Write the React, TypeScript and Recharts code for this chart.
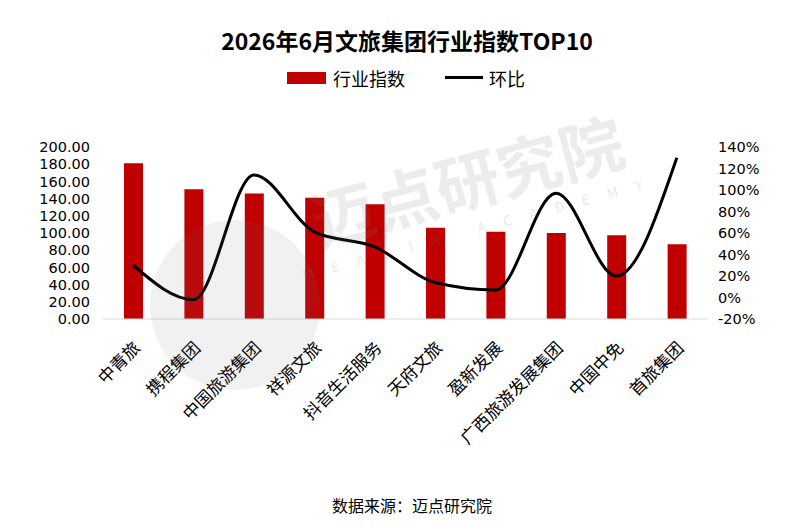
import { ComposedChart, Bar, Line, XAxis, YAxis } from "recharts";

const categories = ["中青旅", "携程集团", "中国旅游集团", "祥源文旅", "抖音生活服务", "天府文旅", "盈新发展", "广西旅游发展集团", "中国中免", "首旅集团"];
const indexValues = [181, 151, 146, 141, 133.5, 106, 101.5, 100, 97.5, 87];
const momValues = [30, -2, 114, 61, 47, 14, 7, 97, 20, 130];
const leftTicks = [0, 20, 40, 60, 80, 100, 120, 140, 160, 180, 200];
const rightTicks = [-20, 0, 20, 40, 60, 80, 100, 120, 140];

const data = categories.map((name, i) => ({ name, index: indexValues[i], mom: momValues[i] }));

const FONT = '"Noto Sans CJK SC", "Noto Sans", sans-serif';
const NUM_FONT = '"DejaVu Sans", sans-serif';

function AngledTick(props: any) {
  const { x, y, payload } = props;
  return (
    <g transform={`translate(${x + 8},${y + 22})`}>
      <text textAnchor="end" transform="rotate(-45)" fontSize={17} fill="#000" fontFamily={FONT}>
        {payload.value}
      </text>
    </g>
  );
}

export default function App() {
  return (
    <div style={{ position: "absolute", left: 0, top: 0, width: 800, height: 532, background: "#fff", fontFamily: FONT, overflow: "hidden" }}>
      <div style={{ position: "absolute", left: 7, top: 23, width: 800, textAlign: "center", fontSize: 23, fontWeight: 700, color: "#000" }}>
        2026年6月文旅集团行业指数TOP10
      </div>

      {/* legend */}
      <div style={{ position: "absolute", left: 287, top: 72, width: 39, height: 12, background: "#c00000" }} />
      <div style={{ position: "absolute", left: 333, top: 65, fontSize: 18, color: "#000", lineHeight: "26px" }}>行业指数</div>
      <div style={{ position: "absolute", left: 445, top: 76, width: 38, height: 3, background: "#000" }} />
      <div style={{ position: "absolute", left: 489, top: 65, fontSize: 18, color: "#000", lineHeight: "26px" }}>环比</div>

      <ComposedChart width={800} height={532} data={data} margin={{ top: 147, right: 33, bottom: 113, left: 43 }}>
        <XAxis
          dataKey="name"
          height={100}
          interval={0}
          tickLine={false}
          axisLine={{ stroke: "#d9d9d9" }}
          tick={<AngledTick />}
        />
        <YAxis
          yAxisId="left"
          width={60}
          domain={[0, 200]}
          ticks={leftTicks}
          axisLine={false}
          tickLine={false}
          tickMargin={7}
          interval={0}
          tick={{ fontSize: 14.5, fill: "#000", fontFamily: NUM_FONT }}
          tickFormatter={(v: number) => v.toFixed(2)}
        />
        <YAxis
          yAxisId="right"
          orientation="right"
          width={60}
          domain={[-20, 140]}
          ticks={rightTicks}
          axisLine={false}
          tickLine={false}
          tickMargin={5}
          interval={0}
          tick={{ fontSize: 14.5, fill: "#000", fontFamily: NUM_FONT }}
          tickFormatter={(v: number) => `${v}%`}
        />
        <Bar yAxisId="left" dataKey="index" fill="#c00000" barSize={19} isAnimationActive={false} />
        <Line yAxisId="right" dataKey="mom" type="monotone" stroke="#000" strokeWidth={3} dot={false} isAnimationActive={false} />
      </ComposedChart>

      {/* watermark */}
      <div style={{ position: "absolute", left: 150, top: 220, width: 170, height: 170, borderRadius: "50%", background: "rgba(120,120,120,0.10)", pointerEvents: "none" }} />
      <div style={{ position: "absolute", left: 300, top: 175, fontSize: 64, fontWeight: 700, color: "rgba(120,120,120,0.14)", transform: "rotate(-15deg)", transformOrigin: "left top", whiteSpace: "nowrap", pointerEvents: "none" }}>
        迈点研究院
      </div>
      <div style={{ position: "absolute", left: 300, top: 265, fontSize: 14, letterSpacing: 18, color: "rgba(120,120,120,0.18)", transform: "rotate(-15deg)", transformOrigin: "left top", whiteSpace: "nowrap", pointerEvents: "none" }}>
        MEADIN ACADEMY
      </div>

      <div style={{ position: "absolute", left: 12, top: 493, width: 800, textAlign: "center", fontSize: 16, color: "#000" }}>
        数据来源：迈点研究院
      </div>
    </div>
  );
}
